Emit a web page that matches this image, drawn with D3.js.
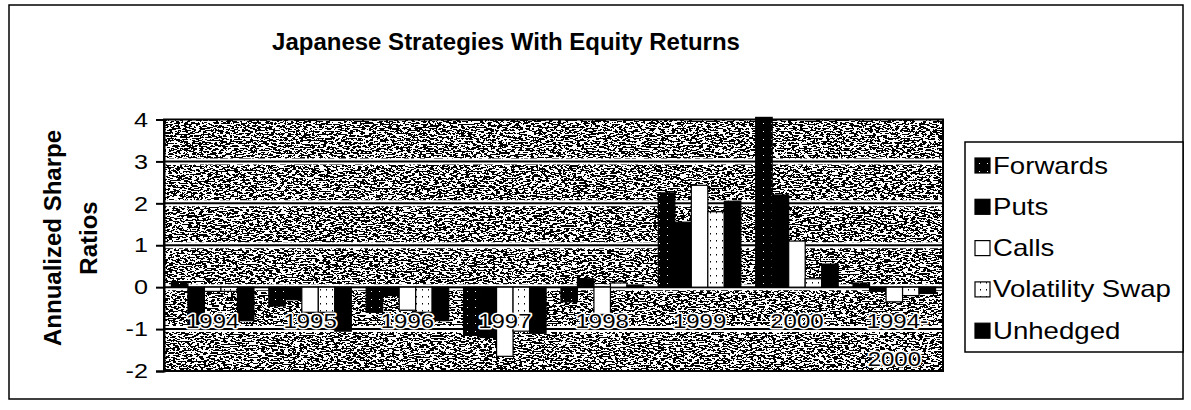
<!DOCTYPE html>
<html>
<head>
<meta charset="utf-8">
<script src="https://cdn.jsdelivr.net/npm/d3@7"></script>
<style>
  body { margin: 0; background: #fff; }
  text { font-family: Arial, "Liberation Sans", sans-serif; }
</style>
</head>
<body>
<script>
(function all (){
  //chart data
  var years = ["1994", "1995", "1996", "1997", "1998", "1999", "2000", "1994-2000"];
  var seriesNames = ["Forwards", "Puts", "Calls", "Volatility Swap", "Unhedged"];
  var forwards = [0.13, -0.45, -0.6, -1.15, -0.35, 2.25, 4.05, 0.1];
  var puts     = [-0.95, -0.3, -0.2, -1.2, 0.2, 1.55, 2.2, -0.1];
  var calls    = [-0.1, -0.6, -0.55, -1.65, -0.65, 2.43, 1.1, -0.35];
  var volSwap  = [-0.1, -0.6, -0.6, -1.05, 0.1, 1.8, 0.2, -0.2];
  var unhedged = [-0.8, -1.05, -0.8, -1.1, 0.05, 2.05, 0.55, -0.15];
  var yTicks = [4, 3, 2, 1, 0, -1, -2];

  var allSeries = [forwards, puts, calls, volSwap, unhedged];
  var fills = ["url(#fwd)", "#000", "#fff", "url(#vol)", "#000"];
  var stretch = 1.2; //the printed fonts look wider than plain Arial

  var width = 1191, height = 410;
  var svg = d3.select("body").append("svg")
    .attr("width", width)
    .attr("height", height);

  var defs = svg.append("defs");
  //noisy printed texture for plot area
  var f = defs.append("filter").attr("id", "noise")
    .attr("x", 0).attr("y", 0).attr("width", "100%").attr("height", "100%");
  f.append("feTurbulence").attr("type", "fractalNoise")
    .attr("baseFrequency", "0.26 0.7").attr("numOctaves", 3).attr("seed", 7).attr("result", "t");
  f.append("feColorMatrix").attr("in", "t").attr("type", "matrix")
    .attr("values", "1 0 0 0 0  1 0 0 0 0  1 0 0 0 0  0 0 0 0 1").attr("result", "g");
  var ct = f.append("feComponentTransfer").attr("in", "g");
  ["feFuncR", "feFuncG", "feFuncB"].forEach(function(n){
    ct.append(n).attr("type", "discrete").attr("tableValues", "0 1");
  });

  //forwards: black with a few white specks
  var pf = defs.append("pattern").attr("id", "fwd").attr("patternUnits", "userSpaceOnUse")
    .attr("width", 8).attr("height", 8);
  pf.append("rect").attr("width", 8).attr("height", 8).attr("fill", "#000");
  pf.append("rect").attr("x", 3).attr("y", 3).attr("width", 1).attr("height", 1).attr("fill", "#fff");
  //volatility swap: white with sparse black dots
  var pv = defs.append("pattern").attr("id", "vol").attr("patternUnits", "userSpaceOnUse")
    .attr("width", 6).attr("height", 7);
  pv.append("rect").attr("width", 6).attr("height", 7).attr("fill", "#fff");
  pv.append("rect").attr("x", 2).attr("y", 2).attr("width", 1).attr("height", 1.5).attr("fill", "#000");

  //stretched text helper
  function wideText(g, x, y, str, size, anchor, weight){
    return g.append("text")
      .attr("transform", "translate(" + x + "," + y + ") scale(" + stretch + ",1)")
      .attr("text-anchor", anchor || "start")
      .attr("font-size", size)
      .attr("font-weight", weight || "normal")
      .text(str);
  }

  //outer frame
  svg.append("rect").attr("x", 9).attr("y", 5).attr("width", 1174).attr("height", 394)
    .attr("fill", "none").attr("stroke", "#000").attr("stroke-width", 1.5);

  //title
  svg.append("text").attr("x", 506).attr("y", 50).attr("text-anchor", "middle")
    .attr("font-size", 24).attr("font-weight", "bold").text("Japanese Strategies With Equity Returns");

  //plot frame
  var left = 164, right = 943, top = 119.5, bottom = 371;
  var x0 = d3.scaleBand().domain(years).range([left, right]).paddingInner(0).paddingOuter(0);
  var x1 = d3.scaleBand().domain(d3.range(seriesNames.length))
    .range([0, x0.bandwidth()]).paddingInner(0).paddingOuter(0.45);
  var y = d3.scaleLinear().domain([-2, 4]).range([bottom, top]);

  svg.append("rect").attr("x", left).attr("y", top).attr("width", right - left).attr("height", bottom - top)
    .attr("fill", "#888").attr("filter", "url(#noise)");

  //gridlines: black line with white halo
  var grid = svg.append("g");
  yTicks.forEach(function(t){
    if (t === 4 || t === -2) return;
    grid.append("line").attr("x1", left).attr("x2", right).attr("y1", y(t)).attr("y2", y(t))
      .attr("stroke", "#fff").attr("stroke-width", 6);
    grid.append("line").attr("x1", left).attr("x2", right).attr("y1", y(t)).attr("y2", y(t))
      .attr("stroke", "#000").attr("stroke-width", 2);
  });

  svg.append("rect").attr("x", left).attr("y", top).attr("width", right - left).attr("height", bottom - top)
    .attr("fill", "none").attr("stroke", "#000").attr("stroke-width", 2);

  //bars
  allSeries.forEach(function(vals, s){
    svg.append("g").selectAll("rect")
      .data(vals)
      .enter()
      .append("rect")
      .attr("x", function(d, i){ return x0(years[i]) + x1(s); })
      .attr("width", x1.bandwidth())
      .attr("y", function(d){ return y(Math.max(0, d)); })
      .attr("height", function(d){ return Math.abs(y(d) - y(0)); })
      .attr("fill", fills[s])
      .attr("stroke", "#000")
      .attr("stroke-width", 1.2);
  });

  //y axis
  var yAxis = d3.axisLeft(y).tickValues(yTicks).tickSize(8).tickPadding(8).tickFormat(function(d){ return String(d); });
  var ya = svg.append("g").attr("transform", "translate(" + left + ",0)").call(yAxis);
  ya.select(".domain").attr("stroke-width", 2);
  ya.selectAll(".tick line").attr("stroke-width", 2);
  ya.selectAll("text")
    .attr("font-size", 21)
    .attr("font-family", "Arial, 'Liberation Sans', sans-serif")
    .attr("fill", "#000")
    .attr("transform", "scale(" + stretch + ",1)")
    .attr("x", -16 / stretch);

  //category labels below the zero line, with white halo
  var cat = svg.append("g");
  years.forEach(function(yr){
    var parts = yr.indexOf("-") > 0 ? [yr.split("-")[0] + "-", yr.split("-")[1]] : [yr];
    parts.forEach(function(p, k){
      var cx = x0(yr) + x0.bandwidth() / 2 + (k === 0 && parts.length > 1 ? 3 : 0);
      var cy = y(0) + 41 + k * 38;
      wideText(cat, cx, cy, p, 20, "middle")
        .attr("stroke", "#fff").attr("stroke-width", 3).attr("stroke-linejoin", "round");
      wideText(cat, cx, cy, p, 20, "middle");
    });
  });

  //y axis title
  var yt = svg.append("text").attr("transform", "translate(57,238) rotate(-90)")
    .attr("text-anchor", "middle").attr("font-size", 24).attr("font-weight", "bold");
  yt.append("tspan").attr("x", 0).attr("y", 4).text("Annualized Sharpe");
  yt.append("tspan").attr("x", 0).attr("y", 40).text("Ratios");

  //legend
  var lg = svg.append("g");
  lg.append("rect").attr("x", 965).attr("y", 142).attr("width", 218).attr("height", 210)
    .attr("fill", "#fff").attr("stroke", "#000").attr("stroke-width", 1.5);
  seriesNames.forEach(function(n, i){
    var ly = 165.5 + i * 41.3;
    lg.append("rect").attr("x", 975).attr("y", ly - 7.5).attr("width", 15).attr("height", 15)
      .attr("fill", fills[i]).attr("stroke", "#000").attr("stroke-width", 1.2);
    wideText(lg, 993, ly + 8, n, 23);
  });
})();
</script>
</body>
</html>
